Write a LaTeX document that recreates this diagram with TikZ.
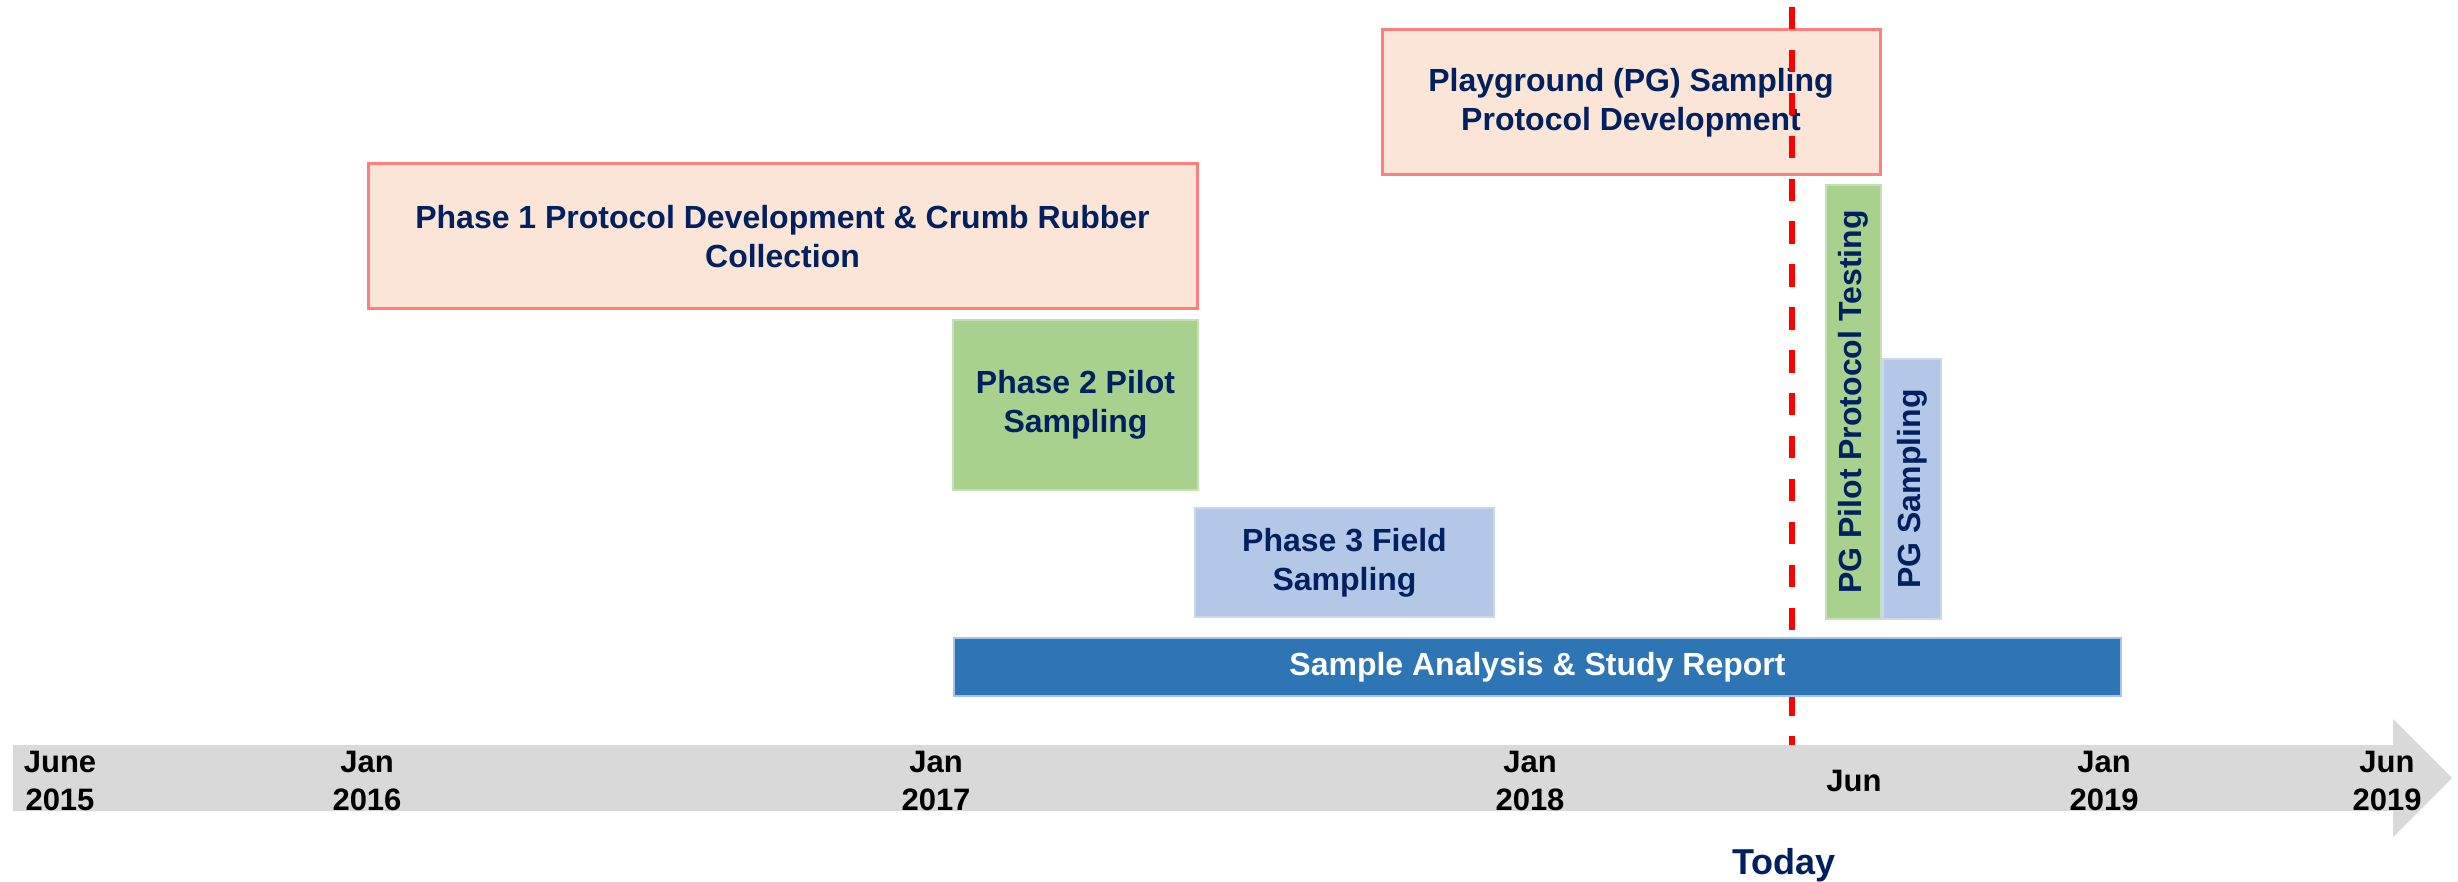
\documentclass[tikz,border=0pt]{standalone}
\usepackage{fontspec}
\setmainfont{Liberation Sans}

\definecolor{navy}{HTML}{002060}
\definecolor{peach}{HTML}{FBE5D6}
\definecolor{peachline}{HTML}{FF7F7F}
\definecolor{leaf}{HTML}{A9D18E}
\definecolor{leafline}{HTML}{C5E0B4}
\definecolor{sky}{HTML}{B4C7E7}
\definecolor{skyline}{HTML}{C9D7EF}
\definecolor{ocean}{HTML}{2E75B6}
\definecolor{oceanline}{HTML}{A9C4EB}
\definecolor{bandgray}{HTML}{D9D9D9}
\definecolor{todayred}{HTML}{FF0000}

\tikzset{
  bar/.style={rectangle, inner sep=0pt, align=center, text=navy,
    font=\fontsize{32}{39}\selectfont\bfseries},
  peachbar/.style={bar, fill=peach, draw=peachline, line width=3pt},
  leafbar/.style={bar, fill=leaf, draw=leafline, line width=1.5pt},
  skybar/.style={bar, fill=sky, draw=skyline, line width=1.5pt},
  oceanbar/.style={bar, fill=ocean, draw=oceanline, line width=2.5pt, text=white},
  ticklabel/.style={anchor=base, inner sep=0pt, text=black,
    font=\fontsize{31}{36}\selectfont\bfseries},
  todayline/.style={draw=todayred, line width=5.5pt, dash pattern=on 22.4pt off 20.5pt},
}

\begin{document}
\begin{tikzpicture}[x=1pt, y=-1pt]
\useasboundingbox (0,0) rectangle (2458,882);

% task bars
\node[peachbar, minimum width=829pt, minimum height=145pt] (phase1) at (782.5,236.5)
  {Phase 1 Protocol Development \& Crumb Rubber\\Collection};
\node[leafbar, minimum width=245pt, minimum height=170pt] (phase2) at (1075.5,405)
  {Phase 2 Pilot\\Sampling};
\node[skybar, minimum width=299pt, minimum height=109pt] (phase3) at (1344.5,562.5)
  {Phase 3 Field\\Sampling};
\node[peachbar, minimum width=498pt, minimum height=145pt] (pgdev) at (1631,102.5)
  {Playground (PG) Sampling\\Protocol Development};

% today marker
\coordinate (todaytop) at (1792,7);
\coordinate (todaybot) at (1792,745);
\draw[todayline] (todaytop) -- (todaybot);

\node[oceanbar, minimum width=1167pt, minimum height=58pt] (report) at (1537.5,667)
  {Sample Analysis \& Study Report};
\node[leafbar, rotate=90, minimum width=434pt, minimum height=55pt] (pgpilot) at (1853.5,402)
  {PG Pilot Protocol Testing};
\node[skybar, rotate=90, minimum width=260pt, minimum height=58pt] (pgsamp) at (1912,489)
  {PG Sampling};

% time axis
\fill[bandgray] (13,745) -- (2393,745) -- (2393,719) -- (2452,778)
  -- (2393,837) -- (2393,811) -- (13,811) -- cycle;

\node[ticklabel] (m15) at (60,772) {June};
\node[ticklabel] (y15) at (60,810) {2015};
\node[ticklabel] (m16) at (367,772) {Jan};
\node[ticklabel] (y16) at (367,810) {2016};
\node[ticklabel] (m17) at (936,772) {Jan};
\node[ticklabel] (y17) at (936,810) {2017};
\node[ticklabel] (m18) at (1530,772) {Jan};
\node[ticklabel] (y18) at (1530,810) {2018};
\node[ticklabel] (mjun) at (1854,791) {Jun};
\node[ticklabel] (m19) at (2104,772) {Jan};
\node[ticklabel] (y19) at (2104,810) {2019};
\node[ticklabel] (mjun19) at (2387,772) {Jun};
\node[ticklabel] (yjun19) at (2387,810) {2019};

\node[anchor=base, inner sep=0pt, text=navy, font=\fontsize{36}{42}\selectfont\bfseries]
  (today) at (1784,874) {Today};
\end{tikzpicture}
\end{document}
